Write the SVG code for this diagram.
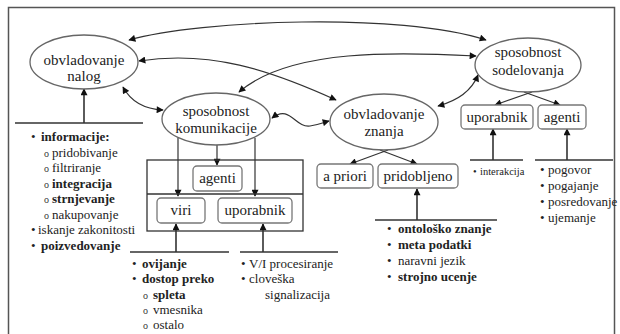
<svg xmlns="http://www.w3.org/2000/svg" width="620" height="334" viewBox="0 0 620 334">
<defs>
<marker id="ah" viewBox="0 0 10 10" refX="9" refY="5" markerWidth="8" markerHeight="7" markerUnits="userSpaceOnUse" orient="auto-start-reverse">
<path d="M0,0 L10,5 L0,10 Z" fill="#111"/>
</marker>
</defs>
<style>
.ell{fill:#fff;stroke:#666;stroke-width:1.3}
.box{fill:#fff;stroke:#777;stroke-width:1.3}
.frame{fill:none;stroke:#555;stroke-width:1.5}
.t15{font-size:15px;fill:#222;text-anchor:middle}
.li{font-size:13px;fill:#222}
.b{font-weight:bold}
.sm{font-size:10.5px}
.sub{font-size:10px;fill:#333}
.c{fill:none;stroke:#333;stroke-width:1.2}
.cb{fill:none;stroke:#333;stroke-width:1.6}
.bar{stroke:#333;stroke-width:1.6}
</style>
<rect class="frame" x="8.5" y="7.5" width="606" height="340"/>

<g id="connectors">
<path class="c" d="M129,40 C200,20 400,12 486,40" marker-start="url(#ah)" marker-end="url(#ah)"/>
<path class="c" d="M139,61 C210,50 270,70 336,100" marker-start="url(#ah)" marker-end="url(#ah)"/>
<path class="c" d="M476,56 C400,52 290,48 239,92" marker-start="url(#ah)" marker-end="url(#ah)"/>
<path class="c" d="M123,87 C130,100 142,109 163,110" marker-start="url(#ah)" marker-end="url(#ah)"/>
<path class="c" d="M272,118 C290,104 295,128 310,126 C318,125 322,123 329,121" marker-start="url(#ah)" marker-end="url(#ah)"/>
<path class="c" d="M438,106 C460,100 472,90 478,75" marker-start="url(#ah)" marker-end="url(#ah)"/>
<line class="c" x1="178" y1="138" x2="178" y2="196" marker-end="url(#ah)"/>
<line class="c" x1="255" y1="138" x2="255" y2="196" marker-end="url(#ah)"/>
<line class="c" x1="217" y1="145" x2="217" y2="165" marker-end="url(#ah)"/>
<line class="c" x1="388" y1="150" x2="350" y2="164" marker-end="url(#ah)"/>
<line class="c" x1="380" y1="150" x2="417" y2="164" marker-end="url(#ah)"/>
<line class="c" x1="532" y1="92" x2="495" y2="105" marker-end="url(#ah)"/>
<line class="c" x1="524" y1="92" x2="560" y2="105" marker-end="url(#ah)"/>
<line class="bar" x1="15" y1="123" x2="143" y2="123"/>
<line class="cb" x1="84" y1="123" x2="84" y2="89" marker-end="url(#ah)"/>
<line class="bar" x1="130" y1="252" x2="229" y2="252"/>
<line class="cb" x1="176" y1="252" x2="176" y2="224" marker-end="url(#ah)"/>
<line class="bar" x1="240" y1="252" x2="338" y2="252"/>
<line class="cb" x1="263" y1="252" x2="263" y2="224" marker-end="url(#ah)"/>
<line class="bar" x1="375" y1="220" x2="497" y2="220"/>
<line class="cb" x1="417" y1="220" x2="417" y2="189" marker-end="url(#ah)"/>
<line class="bar" x1="470" y1="160" x2="523" y2="160"/>
<line class="cb" x1="493" y1="160" x2="493" y2="129" marker-end="url(#ah)"/>
<line class="bar" x1="535" y1="160" x2="613" y2="160"/>
<line class="cb" x1="567" y1="160" x2="567" y2="129" marker-end="url(#ah)"/>
</g>

<g font-family="Liberation Serif, Times New Roman, DejaVu Serif, serif">
<g id="obvladovanje-nalog">
<ellipse class="ell" cx="84" cy="62" rx="54" ry="27"/>
<text class="t15" x="84" y="65">obvladovanje</text>
<text class="t15" x="84" y="81">nalog</text>
</g>
<g id="sposobnost-komunikacije">
<ellipse class="ell" cx="216" cy="119" rx="54" ry="26"/>
<text class="t15" x="216" y="116">sposobnost</text>
<text class="t15" x="216" y="133">komunikacije</text>
</g>
<g id="obvladovanje-znanja">
<ellipse class="ell" cx="384" cy="122" rx="54" ry="28"/>
<text class="t15" x="384" y="119">obvladovanje</text>
<text class="t15" x="384" y="136">znanja</text>
</g>
<g id="sposobnost-sodelovanja">
<ellipse class="ell" cx="528" cy="65" rx="53" ry="27"/>
<text class="t15" x="528" y="57">sposobnost</text>
<text class="t15" x="528" y="75">sodelovanja</text>
</g>

<g id="komunikacija-okvir">
<rect x="147" y="160" width="156" height="71" fill="none" stroke="#333" stroke-width="1.3"/>
<line x1="147" y1="194" x2="303" y2="194" stroke="#333" stroke-width="1.3"/>
</g>
<g id="agenti-k">
<rect class="box" x="193" y="166" width="49" height="25" rx="4"/>
<text class="t15" x="217.5" y="183">agenti</text>
</g>
<g id="viri">
<rect class="box" x="157" y="198" width="48" height="25" rx="4"/>
<text class="t15" x="181" y="215">viri</text>
</g>
<g id="uporabnik-k">
<rect class="box" x="218" y="198" width="74" height="25" rx="4"/>
<text class="t15" x="255" y="215">uporabnik</text>
</g>
<g id="a-priori">
<rect class="box" x="317" y="164" width="56" height="24" rx="4"/>
<text class="t15" x="345" y="181">a priori</text>
</g>
<g id="pridobljeno">
<rect class="box" x="378" y="164" width="80" height="24" rx="4"/>
<text class="t15" x="418" y="181">pridobljeno</text>
</g>
<g id="uporabnik-s">
<rect class="box" x="461" y="105" width="72" height="24" rx="4"/>
<text class="t15" x="497" y="122">uporabnik</text>
</g>
<g id="agenti-s">
<rect class="box" x="538" y="105" width="48" height="24" rx="4"/>
<text class="t15" x="562" y="122">agenti</text>
</g>

<g id="seznam-nalog" class="li">
<text x="31" y="141">•</text><text class="b" x="41" y="141">informacije:</text>
<text class="sub" x="44" y="157">o</text><text x="52" y="157">pridobivanje</text>
<text class="sub" x="44" y="172">o</text><text x="52" y="172">filtriranje</text>
<text class="sub" x="44" y="188">o</text><text class="b" x="52" y="188">integracija</text>
<text class="sub" x="44" y="203">o</text><text class="b" x="52" y="203">strnjevanje</text>
<text class="sub" x="44" y="219">o</text><text x="52" y="219">nakupovanje</text>
<text x="31" y="234">•</text><text x="38" y="234">iskanje zakonitosti</text>
<text x="31" y="250">•</text><text class="b" x="41" y="250">poizvedovanje</text>
</g>
<g id="seznam-viri" class="li">
<text x="132" y="268">•</text><text class="b" x="142" y="268">ovijanje</text>
<text x="132" y="283">•</text><text class="b" x="142" y="283">dostop preko</text>
<text class="sub" x="143" y="299">o</text><text class="b" x="153" y="299">spleta</text>
<text class="sub" x="143" y="314">o</text><text x="153" y="314">vmesnika</text>
<text class="sub" x="143" y="329">o</text><text x="153" y="329">ostalo</text>
</g>
<g id="seznam-uporabnik" class="li">
<text x="241" y="268">•</text><text x="249" y="268">V/I procesiranje</text>
<text x="241" y="283">•</text><text x="249" y="283">cloveška</text>
<text x="265" y="299">signalizacija</text>
</g>
<g id="seznam-znanje" class="li">
<text x="387" y="233">•</text><text class="b" x="398" y="233">ontološko znanje</text>
<text x="387" y="249">•</text><text class="b" x="398" y="249">meta podatki</text>
<text x="387" y="265">•</text><text x="398" y="265">naravni jezik</text>
<text x="387" y="281">•</text><text class="b" x="398" y="281">strojno ucenje</text>
</g>
<g id="seznam-interakcija" class="li">
<text class="sm" x="473" y="175">•</text><text class="sm" x="480" y="175">interakcija</text>
</g>
<g id="seznam-agenti" class="li">
<text x="540" y="174">•</text><text x="548" y="174">pogovor</text>
<text x="540" y="190">•</text><text x="548" y="190">pogajanje</text>
<text x="540" y="206">•</text><text x="548" y="206">posredovanje</text>
<text x="540" y="222">•</text><text x="548" y="222">ujemanje</text>
</g>
</g>
</svg>
